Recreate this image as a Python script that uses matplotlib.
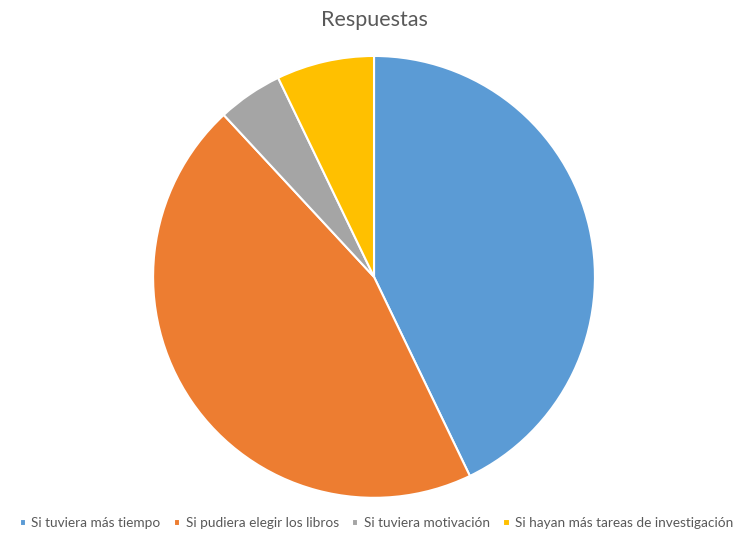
import matplotlib.pyplot as plt

# data
labels = ['Si tuviera más tiempo', 'Si pudiera elegir los libros',
          'Si tuviera motivación', 'Si hayan más tareas de investigación']
values = [18, 19, 2, 3]
colors = ['#5B9BD5', '#ED7D31', '#A5A5A5', '#FFC000']

plt.rcParams['font.family'] = ['Lato', 'DejaVu Sans']

fig = plt.figure(figsize=(7.41, 5.33), dpi=100)
ax = fig.add_axes([0.2065, 0.066, 0.5965, 0.829])

wedges, _ = ax.pie(values, colors=colors, startangle=90, counterclock=False,
                   wedgeprops=dict(edgecolor='white', linewidth=1.5))
ax.set_xlim(-1, 1)
ax.set_ylim(-1, 1)
ax.set_aspect('equal')

fig.text(0.505, 0.962, 'Respuestas', ha='center', va='center',
         fontsize=15.5, color='#595959')

leg = fig.legend(wedges, labels, loc='center', bbox_to_anchor=(0.508, 0.018),
                 ncol=4, frameon=False, fontsize=9.8, handlelength=0.45,
                 handleheight=0.45, handletextpad=0.4, columnspacing=1.0)
for t in leg.get_texts():
    t.set_color('#595959')

fig.savefig('out.png', dpi=100)
